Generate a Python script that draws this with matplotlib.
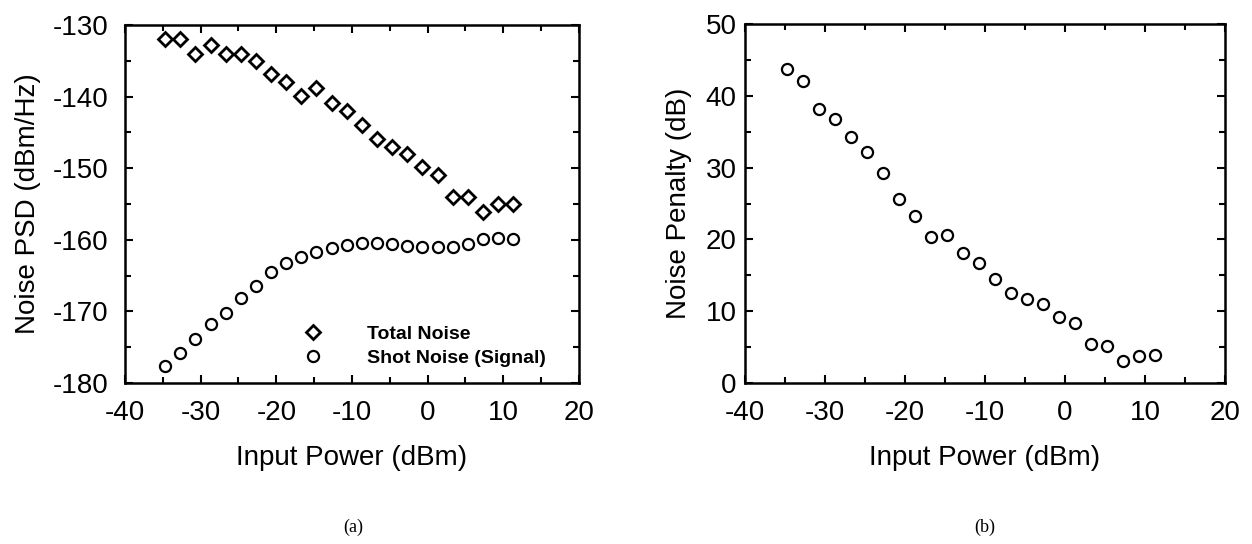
import matplotlib
matplotlib.use("Agg")
import matplotlib.pyplot as plt
from matplotlib.ticker import MultipleLocator

plt.rcParams['font.family'] = ['Liberation Sans', 'DejaVu Sans']
plt.rcParams['axes.unicode_minus'] = False

# ---- data ----
power_dbm = [-34.7, -32.7, -30.7, -28.7, -26.7, -24.7, -22.7, -20.7, -18.7, -16.7,
             -14.7, -12.7, -10.7, -8.7, -6.7, -4.7, -2.7, -0.7, 1.3, 3.3,
             5.3, 7.3, 9.3, 11.3]
total_noise = [-131.9, -132.0, -134.0, -132.8, -134.0, -134.0, -135.0, -136.9, -137.9, -139.9,
               -138.8, -140.9, -142.0, -144.0, -145.9, -147.0, -148.0, -149.9, -151.0, -154.0,
               -154.0, -156.1, -155.0, -155.0]
shot_noise = [-177.6, -175.8, -173.9, -171.7, -170.2, -168.1, -166.4, -164.5, -163.3, -162.4,
              -161.7, -161.2, -160.7, -160.4, -160.5, -160.6, -160.8, -161.0, -161.0, -161.0,
              -160.6, -159.9, -159.8, -159.9]
penalty_db = [43.8, 42.0, 38.1, 36.8, 34.2, 32.2, 29.3, 25.6, 23.3, 20.3,
              20.6, 18.1, 16.7, 14.5, 12.6, 11.7, 11.0, 9.2, 8.3, 5.5,
              5.2, 3.0, 3.7, 3.9]

legend_labels = ["Total Noise", "Shot Noise (Signal)"]
xlabel = "Input Power (dBm)"
ylabel_a = "Noise PSD (dBm/Hz)"
ylabel_b = "Noise Penalty (dB)"
captions = ["(a)", "(b)"]

W, H = 1252, 544
fig = plt.figure(figsize=(W / 100, H / 100), dpi=100)

def px_axes(x0, y0, x1, y1):
    return fig.add_axes([x0 / W, 1 - y1 / H, (x1 - x0) / W, (y1 - y0) / H])

axA = px_axes(125, 25, 579, 383)
axB = px_axes(745, 24, 1225, 383)

FS = 20
for ax in (axA, axB):
    for s in ax.spines.values():
        s.set_linewidth(1.8)
    ax.xaxis.set_major_locator(MultipleLocator(10))
    ax.xaxis.set_minor_locator(MultipleLocator(5))
    ax.yaxis.set_major_locator(MultipleLocator(10))
    ax.yaxis.set_minor_locator(MultipleLocator(5))
    ax.tick_params(which='both', direction='in', top=True, right=True, width=1.5,
                   labelsize=FS)
    ax.tick_params(which='major', length=6)
    ax.tick_params(which='minor', length=4.5)
    ax.tick_params(axis='x', which='major', pad=12)
    ax.set_xlim(-40, 20)
    ax.set_xlabel(xlabel, fontsize=FS, labelpad=14)

axA.tick_params(axis='y', which='major', pad=12)
axB.tick_params(axis='y', which='major', pad=6)

# (a)
axA.plot(power_dbm, total_noise, linestyle='none', marker='D', markersize=7.5,
         markerfacecolor='white', markeredgecolor='black', markeredgewidth=2.0,
         label=legend_labels[0])
axA.plot(power_dbm, shot_noise, linestyle='none', marker='o', markersize=8,
         markerfacecolor='white', markeredgecolor='black', markeredgewidth=1.6,
         label=legend_labels[1])
axA.set_ylim(-180, -130)
axA.set_ylabel(ylabel_a, fontsize=FS, labelpad=8)
axA.legend(loc='upper left', bbox_to_anchor=(303 / W, 1 - 325 / H),
           bbox_transform=fig.transFigure, frameon=False, borderpad=0,
           borderaxespad=0, handlelength=1.0, handletextpad=2.3,
           labelspacing=0.35, prop={'weight': 'bold', 'size': 14})

# (b)
axB.plot(power_dbm, penalty_db, linestyle='none', marker='o', markersize=8,
         markerfacecolor='white', markeredgecolor='black', markeredgewidth=1.6)
axB.set_ylim(0, 50)
axB.set_ylabel(ylabel_b, fontsize=FS, labelpad=10)

fig.text(353 / W, 1 - 527 / H, captions[0], ha='center', va='center',
         fontsize=13, family='Liberation Serif')
fig.text(985 / W, 1 - 527 / H, captions[1], ha='center', va='center',
         fontsize=13, family='Liberation Serif')

fig.savefig("out.png", dpi=100)
